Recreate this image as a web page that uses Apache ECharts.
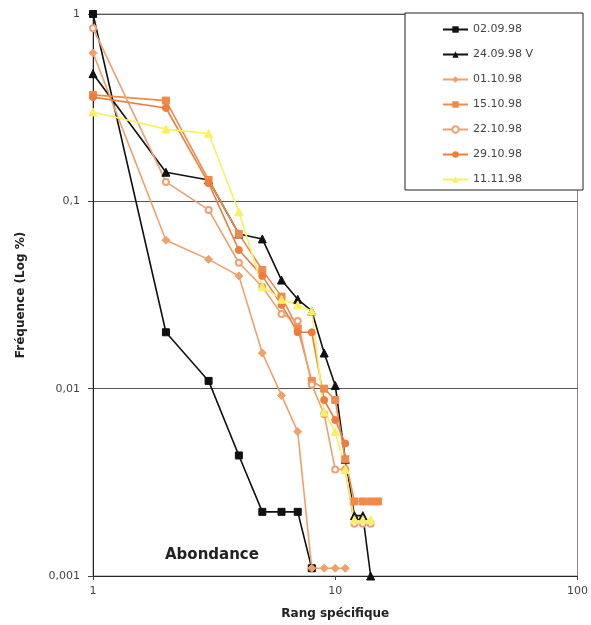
<!DOCTYPE html>
<html>
<head>
<meta charset="utf-8">
<script src="https://cdn.jsdelivr.net/npm/echarts@6/dist/echarts.min.js"></script>
<style>
  html, body { margin: 0; padding: 0; background: #fff; }
  #chart { width: 591px; height: 625px; }
</style>
</head>
<body>
<div id="chart"></div>
<script>
// Rank-abundance values, one array per sampling date (rank = index + 1)
const seriesNames = ['02.09.98', '24.09.98 V', '01.10.98', '15.10.98', '22.10.98', '29.10.98', '11.11.98'];

const s020998 = [1, 0.02, 0.011, 0.0044, 0.0022, 0.0022, 0.0022, 0.0011];
const s240998 = [0.48, 0.143, 0.13, 0.067, 0.063, 0.038, 0.030, 0.026, 0.0155, 0.0104, 0.0042, 0.0021, 0.0021, 0.001];
const s011098 = [0.62, 0.062, 0.049, 0.040, 0.0155, 0.0092, 0.0059, 0.0011, 0.0011, 0.0011, 0.0011];
const s151098 = [0.37, 0.345, 0.13, 0.067, 0.043, 0.031, 0.021, 0.011, 0.010, 0.0087, 0.0042, 0.0025, 0.0025, 0.0025, 0.0025];
const s221098 = [0.84, 0.127, 0.090, 0.047, 0.035, 0.025, 0.023, 0.0105, 0.0073, 0.0037, 0.0037, 0.0019, 0.0019, 0.0019];
const s291098 = [0.36, 0.315, 0.125, 0.055, 0.040, 0.028, 0.020, 0.020, 0.0087, 0.0068, 0.0051];
const s111198 = [0.30, 0.243, 0.23, 0.088, 0.035, 0.030, 0.028, 0.026, 0.0075, 0.0059, 0.0037, 0.0020, 0.0020, 0.0020];

const yTicks = [0.001, 0.01, 0.1, 1];

const styles = [
  { color: '#111111', symbol: 'rect', size: 7 },
  { color: '#111111', symbol: 'triangle', size: 8 },
  { color: '#f2a066', symbol: 'diamond', size: 8 },
  { color: '#f08a4a', symbol: 'rect', size: 7 },
  { color: '#f0a070', symbol: 'emptyCircle', size: 6 },
  { color: '#f07c3c', symbol: 'circle', size: 7 },
  { color: '#f8f060', symbol: 'triangle', size: 8 }
];

const allValues = [s020998, s240998, s011098, s151098, s221098, s291098, s111198];

const toPoints = arr => arr.map((v, i) => [i + 1, v]);
const fmt = v => String(v).replace('.', ',');

const chart = echarts.init(document.getElementById('chart'));

chart.setOption({
  animation: false,
  backgroundColor: '#fff',
  textStyle: { fontFamily: 'DejaVu Sans' },
  grid: {
    left: 93, top: 14, right: 4, bottom: 49,
    show: true, borderColor: '#888', borderWidth: 1
  },
  legend: {
    orient: 'vertical',
    left: 405, top: 13,
    padding: [11, 50, 5, 37],
    itemGap: 14,
    itemWidth: 25, itemHeight: 8,
    backgroundColor: '#fff',
    borderColor: '#222', borderWidth: 1,
    textStyle: { color: '#444', fontSize: 11, fontFamily: 'DejaVu Sans' },
    data: seriesNames
  },
  xAxis: {
    type: 'log', logBase: 10, min: 1, max: 100,
    name: 'Rang spécifique',
    nameLocation: 'middle', nameGap: 32,
    nameTextStyle: { fontWeight: 'bold', fontSize: 12, color: '#222' },
    axisLine: { lineStyle: { color: '#222' } },
    axisTick: { show: true, length: 4, lineStyle: { color: '#444' } },
    axisLabel: { color: '#444', fontSize: 11, margin: 10 },
    splitLine: { show: false }
  },
  yAxis: {
    type: 'log', logBase: 10, min: yTicks[0], max: yTicks[yTicks.length - 1],
    name: 'Fréquence (Log %)',
    nameLocation: 'middle', nameGap: 66, nameRotate: 90,
    nameTextStyle: { fontWeight: 'bold', fontSize: 12, color: '#222' },
    axisLine: { show: true, lineStyle: { color: '#222' } },
    axisTick: { show: true, length: 5, lineStyle: { color: '#444' } },
    axisLabel: { color: '#444', fontSize: 11, margin: 13, formatter: fmt },
    splitLine: { show: true, lineStyle: { color: '#555', width: 1 } }
  },
  graphic: [{
    type: 'text', left: 165, top: 548,
    style: { text: 'Abondance', fontSize: 15, fontWeight: 'bold', fill: '#222', fontFamily: 'DejaVu Sans' }
  }],
  series: allValues.map((vals, k) => ({
    name: seriesNames[k],
    type: 'line',
    data: toPoints(vals),
    symbol: styles[k].symbol,
    symbolSize: styles[k].size,
    lineStyle: { color: styles[k].color, width: 1.6 },
    itemStyle: { color: styles[k].color, borderColor: styles[k].color },
    emphasis: { disabled: true }
  }))
});
</script>
</body>
</html>
